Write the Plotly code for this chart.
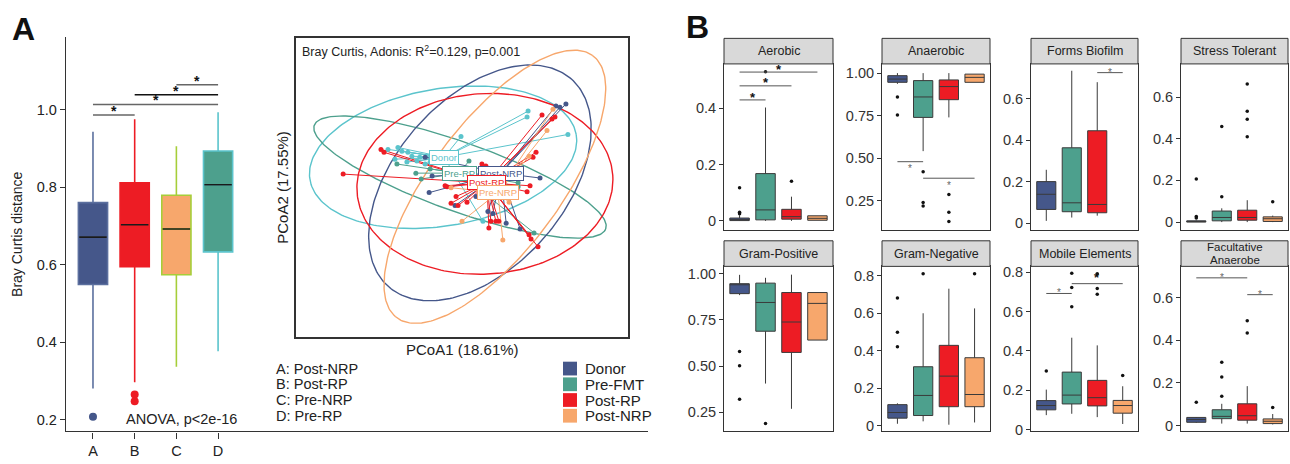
import numpy as np
import plotly.graph_objects as go

W, H = 1290, 464
FONT = "Arial, Liberation Sans, sans-serif"


def px(x):
    return x / W


def py(y):
    return 1 - y / H


# ---------------- Panel A: Bray Curtis boxplot ----------------
A_CATS = ["A", "B", "C", "D"]
A_NAMES = ["Post-NRP", "Post-RP", "Pre-NRP", "Pre-RP"]
A_LOW = [0.281, 0.297, 0.337, 0.377]
A_Q1 = [0.549, 0.595, 0.574, 0.633]
A_MED = [0.671, 0.703, 0.692, 0.806]
A_Q3 = [0.760, 0.811, 0.779, 0.893]
A_HIGH = [0.943, 0.975, 0.905, 0.993]
A_OUT = [[0.208], [0.265, 0.248], [], []]
A_FILL = ["#45578a", "#ED1C24", "#F7A76C", "#4DA08D"]
A_EDGE = ["#5b6f9e", "#ED1C24", "#A6CE39", "#5BC4CC"]
A_BRACKET_FROM = [1, 1, 2, 3]
A_BRACKET_TO = [2, 4, 4, 4]
A_BRACKET_Y = [0.986, 1.013, 1.038, 1.064]
A_BRACKET_COLOR = ["#666666", "#666666", "#111111", "#666666"]

# ---------------- PCoA ----------------
PCOA_GROUPS = ["Donor", "Pre-RP", "Post-NRP", "Post-RP", "Pre-NRP"]
PCOA_COLORS = ["#5BC4CC", "#4DA08D", "#45578a", "#ED1C24", "#F7A76C"]

donor_x = [-0.223, -0.193, -0.181, -0.163, -0.151, -0.136, -0.166, -0.202, -0.127, -0.111, -0.003, 0.199, 0.196, 0.319, 0.063, -0.096]
donor_y = [0.118, 0.124, 0.112, 0.109, 0.097, 0.082, 0.079, 0.088, 0.094, 0.073, 0.158, 0.236, 0.218, 0.164, -0.103, 0.079]
prerp_x = [-0.196, -0.139, -0.123, 0.021, 0.169, 0.169, 0.217, -0.096]
prerp_y = [0.073, 0.045, 0.027, 0.082, 0.015, 0.003, -0.139, 0.058]
postnrp_x = [0.283, 0.295, 0.313, -0.111, -0.090, -0.099, 0.235, 0.042, -0.021, 0.078, 0.093, 0.133, 0.175]
postnrp_y = [0.252, 0.248, 0.258, 0.094, 0.036, -0.015, 0.030, -0.027, -0.055, -0.073, -0.079, -0.109, -0.127]
postrp_x = [-0.358, -0.244, -0.235, -0.045, 0.241, 0.271, 0.280, 0.223, 0.214, 0.060, 0.072, -0.051, -0.018, -0.012, -0.033, 0.015, 0.087, 0.102, 0.111, 0.081, 0.196, 0.202, 0.208, 0.229, 0.205]
postrp_y = [0.042, 0.118, 0.109, 0.003, 0.224, 0.212, 0.218, 0.109, 0.094, 0.073, 0.067, 0.006, -0.027, -0.055, -0.048, -0.045, -0.103, -0.103, -0.103, -0.124, -0.012, -0.145, -0.158, -0.182, 0.006]
prenrp_x = [0.274, 0.256, 0.000, 0.123, 0.142, -0.033, 0.202]
prenrp_y = [0.242, 0.176, -0.103, -0.161, -0.045, 0.000, 0.097]

CENTROID_X = [-0.054, -0.009, 0.117, 0.075, 0.108]
CENTROID_Y = [0.094, 0.045, 0.045, 0.015, -0.015]

ELL_CX = [-0.057, -0.006, 0.054, 0.069, 0.099]
ELL_CY = [0.094, 0.033, 0.015, 0.012, 0.003]
ELL_A = [0.407, 0.467, 0.422, 0.386, 0.500]
ELL_B = [0.211, 0.106, 0.257, 0.278, 0.196]
ELL_ANG = [10, -20, 50, 4, 54]

LEGEND_GROUPS = ["Donor", "Pre-FMT", "Post-RP", "Post-NRP"]
LEGEND_COLORS = ["#45578a", "#4DA08D", "#ED1C24", "#F7A76C"]

# ---------------- Panel B: functional facets ----------------
FACETS = [["Aerobic"], ["Anaerobic"], ["Forms Biofilm"], ["Stress Tolerant"],
          ["Gram-Positive"], ["Gram-Negative"], ["Mobile Elements"], ["Facultative", "Anaerobe"]]
B_FILL = ["#45578a", "#4DA08D", "#ED1C24", "#F7A76C"]

B_LOW = [
    [0.000, 0.000, 0.000, 0.002],
    [0.937, 0.542, 0.740, 0.946],
    [0.011, 0.027, 0.036, None],
    [0.000, 0.000, 0.000, 0.000],
    [0.885, 0.405, 0.268, 0.641],
    [0.010, 0.023, 0.005, 0.017],
    [0.073, 0.080, 0.063, 0.028],
    [0.012, 0.009, 0.009, 0.005],
]
B_Q1 = [
    [0.001, 0.0035, 0.006, 0.002],
    [0.946, 0.740, 0.844, 0.946],
    [0.066, 0.055, 0.050, None],
    [0.000, 0.006, 0.009, 0.003],
    [0.893, 0.689, 0.574, 0.641],
    [0.040, 0.054, 0.101, 0.101],
    [0.100, 0.130, 0.120, 0.083],
    [0.015, 0.032, 0.025, 0.009],
]
B_MED = [
    [0.004, 0.039, 0.015, 0.009],
    [0.965, 0.860, 0.921, 0.975],
    [0.139, 0.098, 0.090, None],
    [0.003, 0.022, 0.022, 0.016],
    [0.941, 0.845, 0.739, 0.840],
    [0.070, 0.161, 0.264, 0.166],
    [0.122, 0.175, 0.162, 0.122],
    [0.028, 0.043, 0.046, 0.020],
]
B_Q3 = [
    [0.010, 0.168, 0.041, 0.018],
    [0.985, 0.956, 0.960, 0.994],
    [0.200, 0.363, 0.445, None],
    [0.006, 0.053, 0.057, 0.025],
    [0.947, 0.950, 0.899, 0.899],
    [0.112, 0.314, 0.428, 0.362],
    [0.147, 0.292, 0.250, 0.148],
    [0.038, 0.074, 0.102, 0.031],
]
B_HIGH = [
    [0.020, 0.403, 0.086, 0.018],
    [1.000, 1.000, 1.000, 0.994],
    [0.257, 0.734, 0.679, None],
    [0.008, 0.066, 0.105, 0.031],
    [0.995, 0.979, 0.996, 0.899],
    [0.119, 0.599, 0.730, 0.625],
    [0.203, 0.467, 0.428, 0.220],
    [0.040, 0.102, 0.185, 0.054],
]
B_OUT = [
    [[0.118, 0.031, 0.025], [0.53], [0.141], []],
    [[0.860, 0.754], [0.421, 0.240, 0.220], [0.288, 0.183, 0.129], []],
    [[], [], [], []],
    [[0.207, 0.027, 0.019], [0.121, 0.459], [0.663, 0.532, 0.493, 0.410], [0.097]],
    [[0.579, 0.502, 0.320], [0.188], [], []],
    [[0.681, 0.498, 0.421], [0.809], [], [0.809]],
    [[0.297], [0.625, 0.722, 0.795], [0.688, 0.717, 0.792], [0.275]],
    [[0.109], [0.138, 0.228, 0.297], [0.435, 0.492], [0.085]],
]
# significance brackets: facet index, from group, to group, line level, star level, dark?
B_SIG_FACET = [0, 0, 0, 1, 1, 2, 6, 6, 7, 7]
B_SIG_FROM = [1, 1, 1, 1, 2, 3, 1, 2, 1, 3]
B_SIG_TO = [2, 3, 4, 2, 4, 4, 2, 4, 3, 4]
B_SIG_LINE = [0.430, 0.480, 0.529, 0.480, 0.383, 0.725, 0.692, 0.742, 0.694, 0.615]
B_SIG_STAR = [0.450, 0.503, 0.550, 0.456, 0.356, 0.742, 0.713, 0.788, 0.712, 0.631]
B_SIG_DARK = [True, True, True, False, False, False, False, True, False, False]

B_YRANGE = [(-0.0325, 0.558), (0.079, 1.054), (-0.033, 0.767), (-0.038, 0.759),
            (0.145, 1.041), (-0.031, 0.849), (-0.010, 0.830), (-0.028, 0.748)]
B_TICKS = [[0, 0.2, 0.4], [0.25, 0.5, 0.75, 1.0], [0, 0.2, 0.4, 0.6], [0, 0.2, 0.4, 0.6],
           [0.25, 0.5, 0.75, 1.0], [0, 0.2, 0.4, 0.6, 0.8], [0, 0.2, 0.4, 0.6, 0.8], [0, 0.2, 0.4, 0.6]]
B_TICKTEXT = [["0", "0.2", "0.4"], ["0.25", "0.50", "0.75", "1.00"], ["0", "0.2", "0.4", "0.6"],
              ["0", "0.2", "0.4", "0.6"], ["0.25", "0.50", "0.75", "1.00"],
              ["0", "0.2", "0.4", "0.6", "0.8"], ["0", "0.2", "0.4", "0.6", "0.8"], ["0", "0.2", "0.4", "0.6"]]

fig = go.Figure()
annotations = []
shapes = []


def ann(**kw):
    kw.setdefault("showarrow", False)
    kw.setdefault("xanchor", "center")
    kw.setdefault("yanchor", "middle")
    annotations.append(kw)


# ---- Panel A traces ----
for i in range(4):
    pos = i + 1
    fig.add_trace(go.Box(
        x=[pos], q1=[A_Q1[i]], median=[A_MED[i]], q3=[A_Q3[i]],
        lowerfence=[A_LOW[i]], upperfence=[A_HIGH[i]], width=0.7,
        fillcolor=A_FILL[i], line=dict(color=A_EDGE[i], width=1.6),
        whiskerwidth=0, boxpoints=False, showlegend=False, hoverinfo="skip",
        xaxis="x", yaxis="y"))
    fig.add_trace(go.Scatter(
        x=[pos - 0.33, pos + 0.33], y=[A_MED[i], A_MED[i]], mode="lines",
        line=dict(color="#1a1a1a", width=1.6), showlegend=False, hoverinfo="skip",
        xaxis="x", yaxis="y"))
    if A_OUT[i]:
        fig.add_trace(go.Scatter(
            x=[pos] * len(A_OUT[i]), y=A_OUT[i], mode="markers",
            marker=dict(color=A_FILL[i], size=8), showlegend=False, hoverinfo="skip",
            xaxis="x", yaxis="y"))

for f, t, lv, col in zip(A_BRACKET_FROM, A_BRACKET_TO, A_BRACKET_Y, A_BRACKET_COLOR):
    fig.add_trace(go.Scatter(x=[f, t], y=[lv, lv], mode="lines",
                             line=dict(color=col, width=1.4), showlegend=False,
                             hoverinfo="skip", xaxis="x", yaxis="y"))
    ann(x=(f + t) / 2, y=lv, xref="x", yref="y", text="<b>*</b>",
        yanchor="bottom", yshift=-6, font=dict(size=14, color="#111", family=FONT))

ann(x=1.74, y=0.203, xref="x", yref="y", text="ANOVA, p<2e-16", xanchor="left",
    font=dict(size=14.5, color="#222", family=FONT))

# ---- PCoA traces ----
group_x = [donor_x, prerp_x, postnrp_x, postrp_x, prenrp_x]
group_y = [donor_y, prerp_y, postnrp_y, postrp_y, prenrp_y]
t = np.linspace(0, 2 * np.pi, 240)
for g in range(5):
    th = np.deg2rad(ELL_ANG[g])
    ex = ELL_CX[g] + ELL_A[g] * np.cos(t) * np.cos(th) - ELL_B[g] * np.sin(t) * np.sin(th)
    ey = ELL_CY[g] + ELL_A[g] * np.cos(t) * np.sin(th) + ELL_B[g] * np.sin(t) * np.cos(th)
    fig.add_trace(go.Scatter(x=ex, y=ey, mode="lines", line=dict(color=PCOA_COLORS[g], width=1.4),
                             showlegend=False, hoverinfo="skip", xaxis="x2", yaxis="y2"))
for g in range(5):
    sx, sy = [], []
    for xv, yv in zip(group_x[g], group_y[g]):
        sx += [CENTROID_X[g], xv, None]
        sy += [CENTROID_Y[g], yv, None]
    fig.add_trace(go.Scatter(x=sx, y=sy, mode="lines", line=dict(color=PCOA_COLORS[g], width=1),
                             showlegend=False, hoverinfo="skip", xaxis="x2", yaxis="y2"))
for g in range(5):
    fig.add_trace(go.Scatter(x=group_x[g], y=group_y[g], mode="markers",
                             marker=dict(color=PCOA_COLORS[g], size=5),
                             showlegend=False, hoverinfo="skip", xaxis="x2", yaxis="y2"))
for g in range(5):
    ann(x=CENTROID_X[g], y=CENTROID_Y[g], xref="x2", yref="y2", text=PCOA_GROUPS[g],
        font=dict(size=9.5, color=PCOA_COLORS[g], family=FONT),
        bgcolor="white", bordercolor=PCOA_COLORS[g], borderwidth=1, borderpad=1)

ann(x=px(300), y=py(50), xref="paper", yref="paper",
    text="Bray Curtis, Adonis: R<sup>2</sup>=0.129, p=0.001", xanchor="left",
    font=dict(size=12.5, color="#222", family=FONT))
ann(x=px(462), y=py(354), xref="paper", yref="paper", text="PCoA1 (18.61%)",
    font=dict(size=15, color="#222", family=FONT))
ann(x=px(283), y=py(189), xref="paper", yref="paper", text="PCoA2 (17.55%)",
    textangle=-90, font=dict(size=15, color="#222", family=FONT))

# key for A-D and colour legend
for i in range(4):
    yy = 373 + 16 * i
    ann(x=px(274), y=py(yy), xref="paper", yref="paper",
        text=f"{A_CATS[i]}: {A_NAMES[i]}", xanchor="left",
        font=dict(size=14.5, color="#222", family=FONT))
    shapes.append(dict(type="rect", xref="paper", yref="paper", x0=px(563), x1=px(577),
                       y0=py(yy + 7), y1=py(yy - 7), fillcolor=LEGEND_COLORS[i], line=dict(width=0)))
    ann(x=px(583), y=py(yy), xref="paper", yref="paper", text=LEGEND_GROUPS[i], xanchor="left",
        font=dict(size=15, color="#222", family=FONT))

ann(x=px(23), y=py(27), xref="paper", yref="paper", text="<b>A</b>",
    font=dict(size=32, color="#111", family=FONT))
ann(x=px(697), y=py(25), xref="paper", yref="paper", text="<b>B</b>",
    font=dict(size=32, color="#111", family=FONT))
ann(x=px(17), y=py(237), xref="paper", yref="paper", text="Bray Curtis distance",
    textangle=-90, font=dict(size=14, color="#222", family=FONT))

# ---- Panel B facets ----
COL_X = [(724, 833), (882, 990), (1031, 1138), (1181, 1288)]
ROW_PANEL = [(63, 232), (269, 437)]
ROW_STRIP = [(37, 63), (243, 269)]

layout_axes = {}
for k in range(8):
    r, c = divmod(k, 4)
    n = k + 3
    xs, ys = f"x{n}", f"y{n}"
    for j in range(4):
        if B_Q1[k][j] is None:
            continue
        fig.add_trace(go.Box(
            x=[j + 1], q1=[B_Q1[k][j]], median=[B_MED[k][j]], q3=[B_Q3[k][j]],
            lowerfence=[B_LOW[k][j]], upperfence=[B_HIGH[k][j]], width=0.75,
            fillcolor=B_FILL[j], line=dict(color="#3a3a3a", width=1),
            whiskerwidth=0, boxpoints=False, showlegend=False, hoverinfo="skip",
            xaxis=xs, yaxis=ys))
        if B_OUT[k][j]:
            fig.add_trace(go.Scatter(
                x=[j + 1] * len(B_OUT[k][j]), y=B_OUT[k][j], mode="markers",
                marker=dict(color="#111", size=3.5), showlegend=False, hoverinfo="skip",
                xaxis=xs, yaxis=ys))
    x0, x1 = COL_X[c]
    p0, p1 = ROW_PANEL[r]
    s0, s1 = ROW_STRIP[r]
    layout_axes[f"xaxis{n}"] = dict(domain=[px(x0), px(x1)], range=[0.4, 4.6], anchor=ys,
                                    showticklabels=False, ticks="", showgrid=False, zeroline=False,
                                    showline=True, mirror=True, linecolor="#333", linewidth=1)
    layout_axes[f"yaxis{n}"] = dict(domain=[py(p1), py(p0)], range=list(B_YRANGE[k]), anchor=xs,
                                    tickvals=B_TICKS[k], ticktext=B_TICKTEXT[k],
                                    ticks="outside", ticklen=4, tickcolor="#333",
                                    tickfont=dict(size=14.5, color="#333", family=FONT),
                                    showgrid=False, zeroline=False,
                                    showline=True, mirror=True, linecolor="#333", linewidth=1)
    shapes.append(dict(type="rect", xref="paper", yref="paper", x0=px(x0), x1=px(x1),
                       y0=py(s1), y1=py(s0), fillcolor="#D9D9D9", line=dict(color="#333", width=1)))
    lines = FACETS[k]
    if len(lines) == 1:
        ann(x=px((x0 + x1) / 2), y=py((s0 + s1) / 2), xref="paper", yref="paper",
            text=lines[0], font=dict(size=12.5, color="#222", family=FONT))
    else:
        mid = (s0 + s1) / 2
        for li, txt in enumerate(lines):
            ann(x=px((x0 + x1) / 2), y=py(mid - 6.3 + 12.6 * li), xref="paper", yref="paper",
                text=txt, font=dict(size=11.5, color="#222", family=FONT))

for fi, f, tt, lv, st, dark in zip(B_SIG_FACET, B_SIG_FROM, B_SIG_TO, B_SIG_LINE, B_SIG_STAR, B_SIG_DARK):
    n = fi + 3
    fig.add_trace(go.Scatter(x=[f, tt], y=[lv, lv], mode="lines",
                             line=dict(color="#555", width=1), showlegend=False,
                             hoverinfo="skip", xaxis=f"x{n}", yaxis=f"y{n}"))
    ann(x=(f + tt) / 2, y=st, xref=f"x{n}", yref=f"y{n}",
        text="<b>*</b>" if dark else "*", yshift=-3,
        font=dict(size=13 if dark else 10, color="#111" if dark else "#666", family=FONT))

fig.update_layout(
    width=W, height=H, margin=dict(l=0, r=0, t=0, b=0),
    paper_bgcolor="white", plot_bgcolor="white", showlegend=False,
    xaxis=dict(domain=[px(66), px(648)], range=[0.353, 14.31], tickvals=[1, 2, 3, 4],
               ticktext=A_CATS, ticks="outside", ticklen=6, tickcolor="#333",
               tickfont=dict(size=14.5, color="#222", family=FONT),
               showline=True, linecolor="#333", linewidth=1.4, showgrid=False, zeroline=False,
               anchor="y"),
    yaxis=dict(domain=[py(437), py(36)], range=[0.170, 1.186], tickvals=[0.2, 0.4, 0.6, 0.8, 1.0],
               ticktext=["0.2", "0.4", "0.6", "0.8", "1.0"], ticks="outside", ticklen=5,
               tickcolor="#333", tickfont=dict(size=14.5, color="#222", family=FONT),
               showline=True, linecolor="#333", linewidth=1.4, showgrid=False, zeroline=False,
               anchor="x"),
    xaxis2=dict(domain=[px(296), px(628)], range=[-0.5, 0.5], showticklabels=False, ticks="",
                showgrid=False, zeroline=False, showline=True, mirror=True, linecolor="#333",
                linewidth=1.6, anchor="y2"),
    yaxis2=dict(domain=[py(341), py(37)], range=[-0.46, 0.46], showticklabels=False, ticks="",
                showgrid=False, zeroline=False, showline=True, mirror=True, linecolor="#333",
                linewidth=1.6, anchor="x2"),
    annotations=annotations, shapes=shapes,
)
fig.update_layout(**layout_axes)

fig.write_html("out.html", config={"displayModeBar": False},
               post_script="document.body.style.margin='0';")
